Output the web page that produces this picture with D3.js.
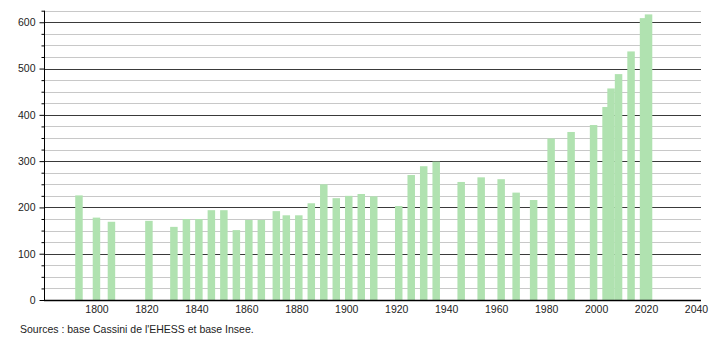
<!DOCTYPE html>
<html>
<head>
<meta charset="utf-8">
<script src="https://cdn.jsdelivr.net/npm/d3@7"></script>
<style>
  body { margin: 0; background: #fff; }
  text { font-family: "Liberation Sans", Arial, sans-serif; }
</style>
</head>
<body>
<script>
const width = 710
    , height = 340;

const years = [1793, 1800, 1806, 1821, 1831, 1836, 1841, 1846, 1851, 1856,
    1861, 1866, 1872, 1876, 1881, 1886, 1891, 1896, 1901, 1906, 1911,
    1921, 1926, 1931, 1936, 1946, 1954, 1962, 1968, 1975, 1982, 1990,
    1999, 2004, 2006, 2009, 2014, 2019, 2021];
const population = [226, 178, 169, 171, 158, 175, 175, 194, 194, 151,
    173, 173, 192, 183, 183, 209, 250, 220, 225, 229, 224,
    203, 270, 289, 299, 255, 265, 261, 232, 216, 349, 363,
    378, 417, 457, 488, 537, 609, 617];
const xTicks = [1800, 1820, 1840, 1860, 1880, 1900, 1920, 1940, 1960, 1980, 2000, 2020, 2040];
const source = "Sources : base Cassini de l'EHESS et base Insee.";

const data = years.map(function(y, i) { return {year: y, value: population[i]}; });

var x = d3.scaleLinear()
    .domain([1779, 2042])
    .range([44, 701]);
var y = d3.scaleLinear()
    .domain([0, 625])
    .range([300, 10.7]);

var svg = d3.select("body").append("svg")
    .attr("width", width)
    .attr("height", height);

// grid, minor every 25, major every 100
var gridValues = d3.range(25, 626, 25);
svg.append("g")
    .attr("class", "grid")
    .selectAll("line")
    .data(gridValues)
    .enter()
    .append("line")
    .attr("x1", x(1779))
    .attr("x2", x(2042))
    .attr("y1", d => Math.round(y(d)) + 0.5)
    .attr("y2", d => Math.round(y(d)) + 0.5)
    .attr("stroke", d => d % 100 === 0 ? "#3a3a3a" : "#c8c8c8")
    .attr("stroke-width", 1);

var bw = x(1781.5) - x(1778.5);
svg.append("g")
    .attr("class", "bars")
    .selectAll("rect")
    .data(data)
    .enter()
    .append("rect")
    .attr("x", d => x(d.year) - bw / 2)
    .attr("width", bw)
    .attr("y", d => y(d.value))
    .attr("height", d => y(0) - y(d.value))
    .attr("fill", "#b0e2b0");

var yAxis = d3.axisLeft(y)
    .tickValues(d3.range(0, 601, 100))
    .tickSize(5)
    .tickPadding(4);
var yMinor = d3.axisLeft(y)
    .tickValues(gridValues.filter(d => d % 100 !== 0))
    .tickSize(3)
    .tickFormat("");

svg.append("g")
    .attr("class", "y axis")
    .attr("transform", "translate(" + (Math.round(x(1779)) + 0.5) + ",0)")
    .call(yAxis)
    .call(g => g.selectAll("text").attr("font-size", "10.5px").attr("fill", "#222").attr("font-family", null))
    .call(g => g.select(".domain").attr("d", "M0," + (Math.round(y(0)) + 0.5) + "V" + y(625)));
svg.append("g")
    .attr("transform", "translate(" + (Math.round(x(1779)) + 0.5) + ",0)")
    .call(yMinor)
    .call(g => g.select(".domain").remove());

var xAxis = d3.axisBottom(x)
    .tickValues(xTicks)
    .tickSize(0)
    .tickPadding(5)
    .tickFormat(d3.format("d"));
svg.append("g")
    .attr("class", "x axis")
    .attr("transform", "translate(0," + (Math.round(y(0)) + 0.5) + ")")
    .call(xAxis)
    .call(g => g.selectAll("text").attr("font-size", "10.5px").attr("fill", "#222").attr("font-family", null))
    .call(g => g.select(".domain").attr("d", "M" + x(1779) + ",0H" + x(2042)).attr("stroke-width", 1.5));

svg.append("text")
    .attr("x", 20)
    .attr("y", 333)
    .attr("font-size", "10.5px")
    .attr("fill", "#222")
    .text(source);
</script>
</body>
</html>
